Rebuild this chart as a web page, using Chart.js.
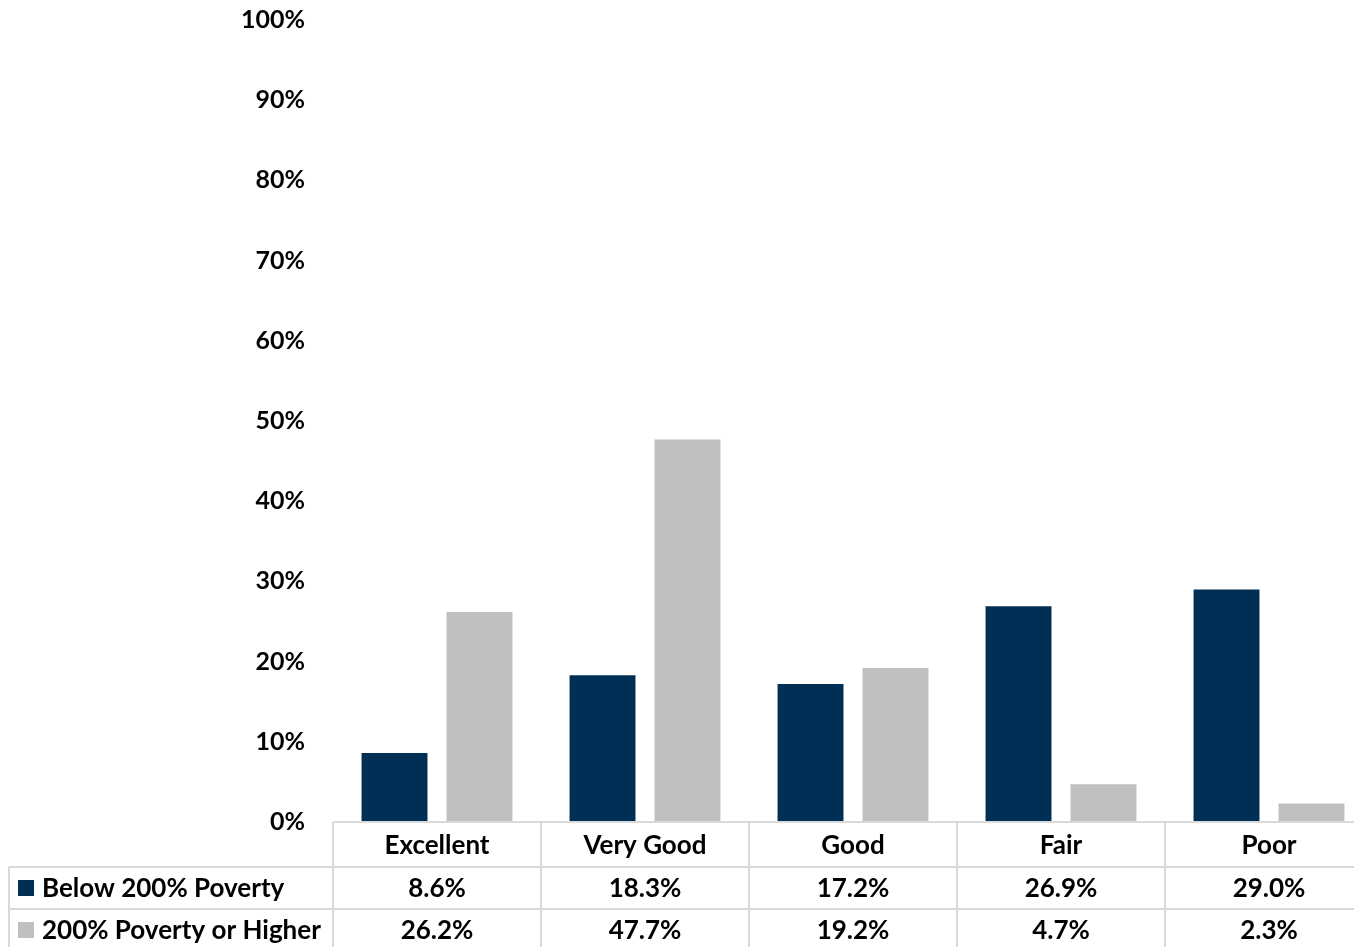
<!DOCTYPE html>
<html>
<head>
<meta charset="utf-8">
<script src="https://cdn.jsdelivr.net/npm/chart.js@4"></script>
<style>
  html, body { margin: 0; padding: 0; background: #fff; overflow: hidden; }
  #wrap { width: 1373px; height: 947px; }
</style>
</head>
<body>
<div id="wrap"><canvas id="healthChart"></canvas></div>
<script>
const categories = ['Excellent', 'Very Good', 'Good', 'Fair', 'Poor'];
const belowPoverty = [8.6, 18.3, 17.2, 26.9, 29.0];
const abovePoverty = [26.2, 47.7, 19.2, 4.7, 2.3];
const seriesNames = ['Below 200% Poverty', '200% Poverty or Higher'];
const yTicks = [0, 10, 20, 30, 40, 50, 60, 70, 80, 90, 100];

const NAVY = '#002F56';
const GREY = '#BFBFBF';
const LINE = '#D9D9D9';
const FONT = 'Lato, "Open Sans", sans-serif';

// draws the data table under the bars, lined up with the category slots
const dataTable = {
  id: 'dataTable',
  afterDraw(chart) {
    const ctx = chart.ctx;
    const area = chart.chartArea;
    const x = chart.scales.x;
    const slot = (x.getPixelForValue(1) - x.getPixelForValue(0));
    const edges = categories.map((c, i) => x.getPixelForValue(i) - slot / 2);
    edges.push(x.getPixelForValue(categories.length - 1) + slot / 2);

    const top = area.bottom;
    const rows = [top, top + 45, top + 87, top + 129];
    const tableLeft = 9;
    const right = chart.width;

    ctx.save();
    ctx.strokeStyle = LINE;
    ctx.lineWidth = 2;
    ctx.beginPath();
    // header row top line
    ctx.moveTo(edges[0], rows[0]); ctx.lineTo(right, rows[0]);
    // series rows
    for (let r = 1; r < rows.length; r++) {
      ctx.moveTo(tableLeft, rows[r]); ctx.lineTo(right, rows[r]);
    }
    ctx.moveTo(tableLeft, rows[1]); ctx.lineTo(tableLeft, rows[3]);
    edges.forEach(e => { ctx.moveTo(e, rows[0]); ctx.lineTo(e, rows[3]); });
    ctx.stroke();

    ctx.fillStyle = '#000';
    ctx.font = 'bold 26px ' + FONT;
    ctx.textBaseline = 'middle';
    ctx.textAlign = 'center';
    categories.forEach((c, i) => {
      ctx.fillText(c, x.getPixelForValue(i), (rows[0] + rows[1]) / 2 + 1);
    });

    const series = [belowPoverty, abovePoverty];
    const colors = [NAVY, GREY];
    series.forEach((vals, s) => {
      const cy = (rows[s + 1] + rows[s + 2]) / 2;
      ctx.fillStyle = colors[s];
      ctx.fillRect(18, cy - 8, 16, 16);
      ctx.fillStyle = '#000';
      ctx.textAlign = 'left';
      ctx.fillText(seriesNames[s], 42, cy + 1);
      ctx.textAlign = 'center';
      vals.forEach((v, i) => {
        ctx.fillText(v.toFixed(1) + '%', x.getPixelForValue(i), cy + 1);
      });
    });
    ctx.restore();
  }
};

new Chart(document.getElementById('healthChart'), {
  type: 'bar',
  data: {
    labels: categories,
    datasets: [
      {
        label: seriesNames[0],
        data: belowPoverty,
        backgroundColor: NAVY,
        categoryPercentage: 0.817,
        barPercentage: 0.776,
      },
      {
        label: seriesNames[1],
        data: abovePoverty,
        backgroundColor: GREY,
        categoryPercentage: 0.817,
        barPercentage: 0.776,
      },
    ],
  },
  options: {
    responsive: true,
    maintainAspectRatio: false,
    animation: false,
    layout: {
      padding: { top: 20, bottom: 125, left: 0, right: 0 },
    },
    scales: {
      x: {
        display: false,
      },
      y: {
        min: 0,
        max: 100,
        afterFit(scale) {
          scale.width = 333;
          scale.paddingTop = 0;
          scale.paddingBottom = 0;
        },
        afterBuildTicks(scale) { scale.ticks = yTicks.map(v => ({ value: v })); },
        border: { display: false },
        grid: { display: false, drawTicks: false },
        ticks: {
          padding: 28,
          color: '#000',
          font: { family: FONT, size: 25, weight: 'bold' },
          callback: (v) => v + '%',
        },
      },
    },
    plugins: {
      legend: { display: false },
      tooltip: { enabled: false },
    },
  },
  plugins: [dataTable],
});
</script>
</body>
</html>
